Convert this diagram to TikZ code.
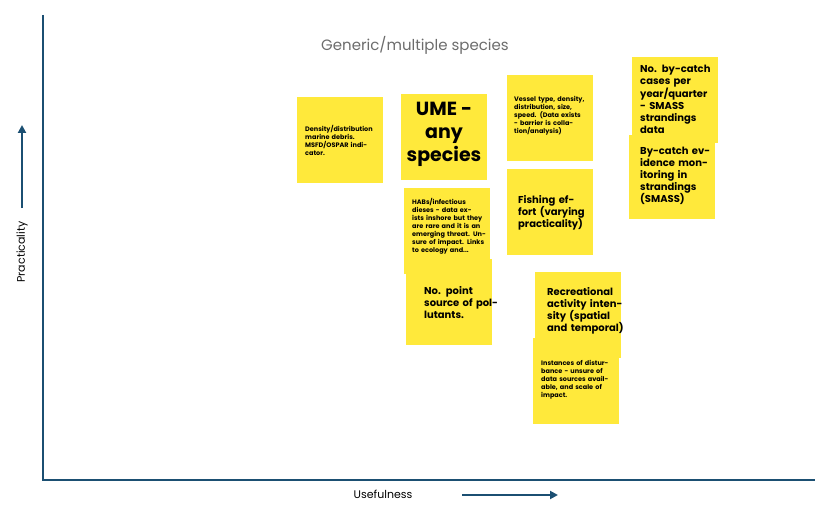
\documentclass[tikz,border=0pt]{standalone}
\usepackage{fontspec}
\setmainfont{Poppins}
\usetikzlibrary{arrows.meta}
\definecolor{axis}{HTML}{1B4F72}
\definecolor{note}{HTML}{FFE93B}
\tikzset{
 notebox/.style={fill=note,draw=none,minimum width=86pt,minimum height=86pt,anchor=north west,inner sep=0pt},
 small/.style={anchor=north west,text width=74pt,font=\fontsize{6.5}{8}\selectfont\bfseries,inner sep=0pt,align=left},
 med/.style={anchor=north west,text width=74pt,font=\fontsize{10}{12}\selectfont\bfseries,inner sep=0pt,align=left},
 axisline/.style={draw=axis,line width=2pt},
 axarrow/.style={draw=axis,line width=2pt,-{Triangle[length=8pt,width=8pt]}}
}
\begin{document}
\begin{tikzpicture}[x=1pt,y=-1pt]
\useasboundingbox (0,0) rectangle (830,516);
\coordinate (o) at (43,480);
\coordinate (ytop) at (43,15);
\coordinate (xend) at (815,480);
\draw[axisline] (ytop) -- (o) -- (xend);
\node[text=gray!85!black,font=\fontsize{15}{18}\selectfont] (title) at (415,45) {Generic/multiple species};
\node[rotate=90,font=\fontsize{11}{13}\selectfont] (ylab) at (22,252) {Practicality};
\coordinate (ya) at (22,208); \coordinate (yb) at (22,125);
\draw[axarrow] (ya) -- (yb);
\node[font=\fontsize{11}{13}\selectfont] (xlab) at (383,494) {Usefulness};
\coordinate (xa) at (462,495); \coordinate (xb) at (558,495);
\draw[axarrow] (xa) -- (xb);

\node[notebox] (n1) at (297,97) {};
\node[small] (t1) at (305,125) {Density/distribution marine debris. MSFD/OSPAR indicator.};
\node[notebox] (n2) at (401,94) {};
\node[anchor=north,align=center,font=\fontsize{19}{23}\selectfont\bfseries,inner sep=0pt] (t2) at (444,102) {UME -\\any\\species};
\node[notebox] (n3) at (507,75) {};
\node[small] (t3) at (514,96) {Vessel type, density, distribution, size, speed. (Data exists - barrier is collation/analysis)};
\node[notebox] (n4) at (507,169) {};
\node[med] (t4) at (518,195) {Fishing effort (varying practicality)};
\node[notebox] (n5) at (404,188) {};
\node[small] (t5) at (412,198) {HABs/infectious dieses - data exists inshore but they are rare and it is an emerging threat. Unsure of impact. Links to ecology and...};
\node[notebox] (n6) at (406,259) {};
\node[med] (t6) at (424,286) {No. point source of pollutants.};
\node[notebox] (n7) at (535,272) {};
\node[med,text width=78pt] (t7) at (547,287) {Recreational activity intensity (spatial and temporal)};
\node[notebox] (n8) at (533,338) {};
\node[small] (t8) at (541,360) {Instances of disturbance - unsure of data sources available, and scale of impact.};
\node[notebox] (n9) at (632,57) {};
\node[med] (t9) at (640,65) {No. by-catch cases per year/quarter - SMASS strandings data};
\node[notebox,minimum height=84pt] (n10) at (629,135) {};
\node[med] (t10) at (640,147) {By-catch evidence monitoring in strandings (SMASS)};
\end{tikzpicture}
\end{document}
